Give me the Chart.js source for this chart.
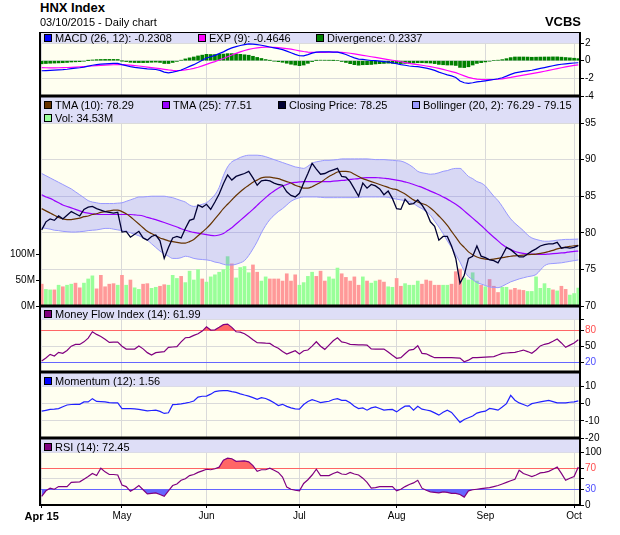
<!DOCTYPE html>
<html><head><meta charset="utf-8">
<script src="https://cdn.jsdelivr.net/npm/chart.js@4.4.1/dist/chart.umd.min.js"></script>
<style>
html,body{margin:0;padding:0;background:#fff;}
body{width:620px;height:535px;overflow:hidden;position:relative;font-family:"Liberation Sans",Arial,Helvetica,sans-serif;color:#000;}
canvas{position:absolute;left:0;}
.t{position:absolute;white-space:nowrap;}
.lg{position:absolute;font-size:11px;line-height:13px;white-space:nowrap;}
.sq{position:absolute;width:6px;height:6px;border:1px solid #000;}
</style></head><body>
<canvas id="cMacd"></canvas>
<canvas id="cMain"></canvas>
<canvas id="cMfi"></canvas>
<canvas id="cMom"></canvas>
<canvas id="cRsi"></canvas>

<div class="t" style="left:40px;top:0px;font-size:13px;line-height:15px;font-weight:bold;">HNX Index</div>
<div class="t" style="left:40px;top:16px;font-size:11px;line-height:13px;">03/10/2015 - Daily chart</div>
<div class="t" style="right:39px;top:14px;font-size:13px;line-height:15px;font-weight:bold;">VCBS</div>

<div class="sq" style="left:44px;top:34px;background:#0000ff"></div><div class="lg" style="left:55px;top:32px;">MACD (26, 12): -0.2308</div>
<div class="sq" style="left:198px;top:34px;background:#ff00ff"></div><div class="lg" style="left:209px;top:32px;">EXP (9): -0.4646</div>
<div class="sq" style="left:316px;top:34px;background:#008000"></div><div class="lg" style="left:327px;top:32px;">Divergence: 0.2337</div>

<div class="sq" style="left:44px;top:101px;background:#663300"></div><div class="lg" style="left:55px;top:99px;">TMA (10): 78.29</div>
<div class="sq" style="left:162px;top:101px;background:#9900ff"></div><div class="lg" style="left:173px;top:99px;">TMA (25): 77.51</div>
<div class="sq" style="left:278px;top:101px;background:#000033"></div><div class="lg" style="left:289px;top:99px;">Closing Price: 78.25</div>
<div class="sq" style="left:412px;top:101px;background:#9999ff"></div><div class="lg" style="left:423px;top:99px;">Bollinger (20, 2): 76.29 - 79.15</div>
<div class="sq" style="left:44px;top:114px;background:#99ff99"></div><div class="lg" style="left:55px;top:112px;">Vol: 34.53M</div>

<div class="sq" style="left:44px;top:310px;background:#800080"></div><div class="lg" style="left:55px;top:308px;">Money Flow Index (14): 61.99</div>
<div class="sq" style="left:44px;top:377px;background:#0000ff"></div><div class="lg" style="left:55px;top:375px;">Momentum (12): 1.56</div>
<div class="sq" style="left:44px;top:443px;background:#800080"></div><div class="lg" style="left:55px;top:441px;">RSI (14): 72.45</div>

<script>
// ---------------- data ----------------
const monthTickIdx = [0, 19, 39, 61, 84, 105, 126];
const monthTickLabels = ['Apr 15', 'May', 'Jun', 'Jul', 'Aug', 'Sep', 'Oct'];

const closePrice = [
  80.4, 81.5, 81.9, 81.7, 82.3, 81.9, 82.4, 82.9, 82.6, 82.3,
  83.2, 83.5, 83.6, 83.3, 83.1, 82.9, 82.8, 82.7, 82.8, 80.1,
  80.2, 79.4, 79.8, 80.2, 79.3, 79.0, 79.5, 79.7, 78.9, 76.5,
  78.0, 79.3, 79.5, 79.3, 80.6, 81.7, 81.9, 83.8, 83.5, 83.9,
  83.2, 84.2, 85.3, 86.7, 87.9, 87.2, 87.7, 87.9, 88.1, 88.4,
  87.5, 86.5, 87.1, 87.2, 87.1, 86.8, 86.6, 86.5, 85.6, 85.1,
  84.9, 85.4, 86.8, 88.1, 89.5, 88.7, 88.0, 88.1, 88.4, 88.6,
  88.8, 87.7, 87.6, 87.0, 86.0, 85.0, 86.8, 86.1, 86.6, 86.4,
  86.0, 85.2, 85.7, 84.7, 83.3, 83.2, 84.6, 83.9, 84.0, 84.5,
  83.8, 82.9, 81.5, 80.9, 79.0, 79.5, 79.5, 78.2, 76.5, 73.1,
  74.2, 76.5, 76.8, 78.2, 76.8, 76.6, 76.3, 76.2, 75.9, 76.9,
  78.0, 77.7, 77.2, 76.7, 76.7, 77.1, 77.5, 77.8, 78.2, 78.4,
  78.5, 78.5, 78.7, 77.9, 78.0, 77.9, 78.0, 78.25
];
const tma10 = [
  83.3, 83.0, 82.7, 82.4, 82.1, 81.9, 81.8, 81.8, 81.9, 82.0,
  82.2, 82.3, 82.5, 82.6, 82.8, 82.9, 83.0, 83.1, 83.1, 82.9,
  82.6, 82.2, 81.7, 81.2, 80.7, 80.2, 79.9, 79.6, 79.3, 79.1,
  78.9, 78.8, 78.7, 78.6, 78.6, 78.8, 79.1, 79.6, 80.1, 80.6,
  81.2, 81.9, 82.6, 83.3, 83.9, 84.5, 85.1, 85.6, 86.1, 86.5,
  86.9, 87.2, 87.5, 87.6, 87.6, 87.5, 87.4, 87.2, 87.0, 86.8,
  86.5, 86.3, 86.1, 86.1, 86.3, 86.6, 86.9, 87.3, 87.7, 88.0,
  88.3, 88.4, 88.4, 88.3, 88.0, 87.7, 87.4, 87.2, 87.0, 86.8,
  86.6, 86.4, 86.2, 86.0, 85.9, 85.6, 85.3, 84.9, 84.5, 84.2,
  84.0, 83.8, 83.4, 82.9, 82.3, 81.7, 81.0, 80.2, 79.4, 78.6,
  78.0, 77.4, 77.0, 76.7, 76.5, 76.4, 76.35, 76.4, 76.5, 76.6,
  76.7, 76.8, 76.85, 76.9, 76.95, 77.0, 77.05, 77.1, 77.2, 77.3,
  77.45, 77.6, 77.8, 77.95, 78.05, 78.15, 78.22, 78.29
];
const tma25 = [
  85.2, 84.9, 84.7, 84.4, 84.1, 83.8, 83.6, 83.4, 83.2, 83.0,
  82.8, 82.7, 82.6, 82.55, 82.5, 82.5, 82.5, 82.5, 82.5, 82.5,
  82.5, 82.5, 82.45, 82.4, 82.3, 82.1, 81.95, 81.8, 81.6, 81.4,
  81.2, 81.0, 80.8, 80.55, 80.35, 80.2, 80.05, 79.95, 79.85, 79.75,
  79.65, 79.6, 79.7, 79.9, 80.3, 80.7, 81.2, 81.7, 82.2, 82.7,
  83.2, 83.75, 84.3, 84.8, 85.3, 85.7, 86.1, 86.4, 86.6, 86.8,
  86.9, 86.95, 87.0, 87.0, 87.0, 87.0, 87.0, 87.0, 87.0, 87.05,
  87.1, 87.15, 87.2, 87.3, 87.35, 87.4, 87.5, 87.55, 87.55, 87.55,
  87.5, 87.45, 87.4, 87.3, 87.2, 87.1, 86.95, 86.8, 86.6, 86.4,
  86.2, 85.95, 85.7, 85.45, 85.2, 84.9, 84.6, 84.25, 83.9, 83.5,
  83.0, 82.5, 82.0, 81.5, 81.0, 80.45, 79.9, 79.4, 78.9, 78.4,
  78.0, 77.7, 77.45, 77.3, 77.2, 77.1, 77.1, 77.05, 77.05, 77.05,
  77.1, 77.15, 77.2, 77.25, 77.3, 77.4, 77.45, 77.51
];
const bollUpper = [
  88.1, 87.8, 87.5, 87.2, 86.9, 86.6, 86.3, 86.0, 85.6, 85.2,
  84.8, 84.4, 84.2, 84.1, 84.0, 84.0, 84.0, 84.0, 84.05, 84.1,
  84.3, 84.5, 84.7, 84.9, 84.9, 84.95, 85.0, 85.0, 85.0, 85.0,
  84.9, 84.8, 84.6, 84.4, 84.2, 83.8, 83.6, 83.7, 83.9, 84.1,
  84.6, 85.2, 86.2, 87.8, 89.0, 89.7, 90.0, 90.3, 90.5, 90.6,
  90.6, 90.6, 90.55, 90.4, 90.2, 90.0, 89.8, 89.6, 89.4, 89.2,
  89.0, 88.9, 88.8, 89.1, 89.5, 89.7, 89.8, 89.9, 89.9, 89.95,
  90.0, 90.1, 90.1, 90.1, 90.1, 90.1, 90.1, 90.1, 90.05, 90.0,
  90.0, 90.0, 89.95, 89.9, 89.85, 89.8, 89.6, 89.3, 88.9, 88.4,
  88.2, 88.1, 88.0, 88.05, 88.2, 88.4, 88.5, 88.7, 88.8, 88.8,
  88.3, 87.7, 87.4, 87.0, 86.8, 86.4, 85.7, 85.0, 84.4, 83.6,
  82.7, 81.9, 81.3, 80.8, 80.3, 79.7, 79.3, 79.1, 78.95, 78.85,
  78.85, 78.9, 79.0, 79.05, 79.1, 79.1, 79.12, 79.15
];
const bollLower = [
  80.7, 80.6, 80.5, 80.35, 80.3, 80.2, 80.15, 80.1, 80.1, 80.15,
  80.2, 80.3, 80.35, 80.4, 80.5, 80.6, 80.6, 80.5, 80.4, 80.3,
  80.2, 80.0, 79.8, 79.6, 79.3, 79.0, 78.5, 78.0, 77.5, 77.1,
  76.8, 76.5, 76.5, 76.6, 76.8, 76.7, 76.5, 76.4, 76.35, 76.3,
  76.2, 76.0, 75.9, 75.7, 75.6, 75.6, 75.7, 75.9, 76.2, 76.9,
  77.8, 78.8, 80.0, 81.0, 81.8, 82.4, 82.9, 83.3, 83.8, 84.3,
  84.6, 84.8, 84.9, 84.9, 84.9, 84.9, 84.85, 84.8, 84.8, 84.8,
  84.8, 84.8, 84.8, 84.8, 84.8, 84.85, 84.9, 84.9, 84.9, 84.9,
  84.9, 84.9, 84.85, 84.7, 84.6, 84.5, 84.4, 84.25, 84.0, 83.6,
  83.3, 82.9, 82.4, 81.6, 80.8, 79.9, 78.9, 78.0, 77.0, 76.0,
  74.8, 74.0, 73.6, 73.2, 73.0, 72.8, 72.6, 72.55, 72.5, 72.7,
  73.0, 73.3, 73.5, 73.7, 73.85, 74.0, 74.1, 74.3, 74.9, 75.5,
  75.75, 75.8, 75.85, 75.9, 76.0, 76.1, 76.2, 76.29
];
// volume in millions
const volume = [
  42, 32, 31, 31, 40, 37, 40, 42, 44, 35,
  44, 52, 58, 33, 59, 37, 42, 43, 40, 59,
  40, 50, 35, 32, 42, 43, 34, 36, 38, 41,
  40, 59, 53, 57, 45, 67, 50, 70, 52, 46,
  56, 60, 65, 70, 95, 81, 54, 74, 76, 64,
  79, 65, 48, 56, 52, 52, 52, 48, 62, 48,
  60, 40, 45, 57, 65, 57, 67, 48, 56, 52,
  73, 62, 55, 48, 56, 40, 56, 48, 44, 48,
  50, 46, 37, 36, 53, 38, 43, 40, 40, 48,
  42, 50, 48, 40, 40, 40, 40, 42, 66, 71,
  54, 50, 64, 48, 40, 37, 51, 38, 26, 36,
  36, 31, 34, 31, 30, 28, 28, 56, 34, 43,
  34, 31, 29, 38, 32, 21, 24, 34.53
];
// 1 = up day (green bar), 0 = down day (red bar)
const volUp = [
  0,1,1,0,1,0,1,1,0,0, 1,1,1,0,0,0,0,0,1,0,
  1,0,1,1,0,0,1,1,0,0, 1,1,1,0,1,1,1,1,0,1,
  1,1,1,1,1,0,1,1,1,1, 0,0,1,1,0,0,0,0,0,0,
  0,1,1,1,1,0,0,0,1,1, 1,0,0,0,0,0,1,0,1,1,
  0,0,1,1,0,0,1,1,1,1, 0,0,0,0,0,1,1,0,0,0,
  1,1,1,1,0,1,0,0,0,1, 1,0,0,0,0,1,1,1,1,1,
  1,0,1,0,0,1,1,1
];
const macd = [
  -1.14, -1.12, -1.1, -1.08, -1.05, -1.02, -0.97, -0.9, -0.85, -0.8,
  -0.72, -0.62, -0.52, -0.45, -0.4, -0.36, -0.33, -0.31, -0.3, -0.45,
  -0.56, -0.68, -0.76, -0.82, -0.88, -0.93, -0.96, -1.0, -1.1, -1.3,
  -1.37, -1.3, -1.2, -1.05, -0.85, -0.65, -0.45, -0.2, 0.05, 0.3,
  0.45, 0.6, 0.8, 1.0, 1.25, 1.45, 1.6, 1.72, 1.82, 1.9,
  1.88, 1.82, 1.75, 1.65, 1.55, 1.45, 1.36, 1.25, 1.08, 0.9,
  0.72, 0.56, 0.55, 0.68, 0.85, 0.97, 1.0, 1.0, 1.0, 0.98,
  0.96, 0.85, 0.7, 0.5, 0.32, 0.18, 0.15, 0.08, 0.02, 0.0,
  -0.05, -0.1, -0.15, -0.25, -0.35, -0.45, -0.52, -0.6, -0.65, -0.68,
  -0.75, -0.85, -0.95, -1.1, -1.3, -1.45, -1.6, -1.72, -1.9, -2.3,
  -2.5, -2.58, -2.5, -2.4, -2.35, -2.28, -2.2, -2.13, -2.05, -1.93,
  -1.75, -1.55, -1.38, -1.3, -1.22, -1.15, -1.08, -0.98, -0.88, -0.78,
  -0.68, -0.57, -0.47, -0.4, -0.35, -0.3, -0.26, -0.2308
];
const macdExp = [
  -0.79, -0.8, -0.81, -0.81, -0.8, -0.79, -0.77, -0.75, -0.72, -0.69,
  -0.66, -0.63, -0.6, -0.57, -0.54, -0.51, -0.48, -0.46, -0.44, -0.44,
  -0.46, -0.5, -0.55, -0.6, -0.66, -0.72, -0.78, -0.84, -0.9, -0.98,
  -1.05, -1.1, -1.12, -1.1, -1.05, -0.97, -0.87, -0.74, -0.58, -0.42,
  -0.25, -0.1, 0.08, 0.25, 0.45, 0.65, 0.83, 1.0, 1.15, 1.28,
  1.38, 1.45, 1.5, 1.52, 1.52, 1.5, 1.47, 1.43, 1.37, 1.3,
  1.21, 1.12, 1.04, 0.98, 0.95, 0.94, 0.94, 0.95, 0.96, 0.96,
  0.96, 0.94, 0.9, 0.84, 0.77, 0.69, 0.61, 0.53, 0.45, 0.37,
  0.29, 0.21, 0.13, 0.05, -0.03, -0.12, -0.21, -0.3, -0.38, -0.45,
  -0.52, -0.6, -0.68, -0.77, -0.88, -0.99, -1.11, -1.23, -1.36, -1.54,
  -1.72, -1.89, -2.01, -2.09, -2.13, -2.14, -2.14, -2.13, -2.1, -2.05,
  -1.98, -1.9, -1.8, -1.72, -1.64, -1.56, -1.47, -1.38, -1.29, -1.2,
  -1.1, -1.0, -0.9, -0.8, -0.71, -0.62, -0.54, -0.4646
];
const macdDiv = [
  -0.35, -0.32, -0.29, -0.27, -0.25, -0.23, -0.2, -0.15, -0.13, -0.11,
  -0.06, 0.01, 0.08, 0.12, 0.14, 0.15, 0.15, 0.15, 0.14, -0.01,
  -0.1, -0.18, -0.21, -0.22, -0.22, -0.21, -0.18, -0.16, -0.2, -0.32,
  -0.32, -0.2, -0.08, 0.05, 0.2, 0.32, 0.42, 0.54, 0.63, 0.72,
  0.7, 0.7, 0.72, 0.75, 0.8, 0.8, 0.77, 0.72, 0.67, 0.62,
  0.5, 0.37, 0.25, 0.13, 0.03, -0.05, -0.11, -0.18, -0.29, -0.4,
  -0.49, -0.56, -0.49, -0.3, -0.1, 0.03, 0.06, 0.05, 0.04, 0.02,
  0.0, -0.09, -0.2, -0.34, -0.45, -0.51, -0.46, -0.45, -0.43, -0.37,
  -0.34, -0.31, -0.28, -0.3, -0.32, -0.33, -0.31, -0.3, -0.27, -0.23,
  -0.23, -0.25, -0.27, -0.33, -0.42, -0.46, -0.49, -0.49, -0.54, -0.76,
  -0.78, -0.69, -0.49, -0.31, -0.22, -0.14, -0.06, 0.0, 0.05, 0.12,
  0.23, 0.35, 0.42, 0.42, 0.42, 0.41, 0.39, 0.4, 0.41, 0.42,
  0.42, 0.43, 0.43, 0.4, 0.36, 0.32, 0.28, 0.2337
];
const mfi = [
  22.5, 28, 34.8, 31.7, 38.5, 36.7, 42, 50, 53.3, 53.3,
  58, 65, 76.8, 71.9, 68, 63, 57, 57.5, 57.7, 50,
  44.7, 44.7, 44.7, 50.2, 45, 38, 33.6, 38, 39.1, 39.8,
  47.8, 48.5, 49, 58, 65.7, 66.3, 70, 73, 78, 86,
  80, 80.3, 85, 90, 91, 85, 76.8, 76.2, 73, 68,
  62, 56.4, 56, 55.5, 55.2, 50, 46, 40, 35.4, 38.5,
  41.6, 35.4, 41.6, 42.8, 50, 58.3, 50, 44.1, 52, 60,
  65.7, 58, 56.4, 53.3, 53, 52.5, 52.3, 52.1, 45, 44.7,
  44.7, 44.7, 39, 33, 27.4, 28.6, 36, 42.8, 44.1, 50.9,
  36.7, 35.8, 32, 28.6, 28.6, 28.6, 28.6, 28.6, 28.3, 27.8,
  21, 24, 28.6, 28.8, 29.2, 29.6, 30, 30.5, 33.5, 36.7,
  37.3, 37.9, 38.5, 40.5, 42.8, 40, 36.7, 43, 50.5, 53.5,
  55.2, 59, 63.2, 56, 47.8, 52, 56, 61.99
];
const momentum = [
  -4.4, -3.9, -3.4, -3.2, -2.9, -1.8, -0.8, -0.5, -0.4, -0.4,
  1.0, 1.0, 2.9, 1.3, 1.2, 1.0, 0.6, 0.4, 0.4, -2.9,
  -2.9, -2.9, -3.1, -3.4, -3.8, -4.2, -4.0, -3.8, -4.5, -5.7,
  -5.3, -0.6, -0.4, -0.1, 0.3, 0.8, 1.5, 3.8, 4.3, 4.4,
  5.5, 7.0, 7.4, 7.6, 7.6, 7.0, 6.5, 5.7, 5.0, 4.4,
  3.5, 2.5, 3.5, 3.0, 1.9, 0.5, -1.1, -0.4, -1.6, -2.5,
  -3.0, -3.2, -0.5, 1.2, 2.3, 1.5, 0.6, 1.0, 1.4, 2.4,
  2.9, 1.9, 1.9, 0.5, -1.5, -2.9, -2.5, -3.8, -2.5, -1.9,
  -2.8, -3.8, -3.5, -3.4, -4.8, -3.0, -1.5, -1.3, -3.8, -1.5,
  -3.2, -3.7, -4.2, -5.4, -6.7, -5.0, -3.8, -5.1, -8.0, -10.9,
  -9.2, -8.2, -7.2, -5.5, -4.8, -4.4, -2.8, -3.2, -3.8, -2.0,
  0.0, 4.8, 2.0, 0.4, -0.5, -1.5, 0.0, 0.5, 1.0, 1.5,
  1.9, 1.2, 0.4, 0.4, 0.4, 0.8, 1.0, 1.56
];
const rsi = [
  16.5, 27, 32, 30, 35, 35, 35, 43, 43.5, 44,
  49, 54, 60, 56, 70, 63, 58, 58, 57, 38,
  35, 26, 31, 37, 29, 21, 22, 23, 20, 16.5,
  27, 37, 40, 47, 50, 56, 58, 62, 65, 68,
  67, 69, 72, 85, 89, 88, 83, 83.5, 84, 82,
  75, 64, 67, 67, 70, 66, 62, 53, 34, 30,
  28, 27, 41, 48, 57, 68, 56, 56, 56, 60,
  63, 59, 58, 62, 59, 57, 51, 43, 32, 33,
  35, 35, 35, 35, 27, 30, 35, 39, 42, 47,
  32, 28, 25, 24, 23, 25, 24, 22, 22, 20,
  15, 27, 29, 30, 31, 32, 33, 35, 37, 40,
  43, 46, 49, 66, 60, 57, 54, 57, 61, 62,
  64, 68, 72, 60, 47, 51, 54, 72.45
];

const priceTicks = [70, 75, 80, 85, 90, 95];
const volTicks = [0, 50, 100];
const macdTicks = [-4, -2, 0, 2];
const mfiTicks = [20, 50, 80, 100];
const momTicks = [-20, -10, 0, 10];
const rsiTicks = [0, 30, 50, 70, 100];

// ---------------- drawing ----------------
const FONT = '"Liberation Sans", Arial, Helvetica, sans-serif';
Chart.defaults.font.family = FONT;
Chart.defaults.font.size = 10;
Chart.defaults.color = '#000';
const GRID = '#dadada';
const PLOT_BG = '#fffff0';
const BAND_BG = '#dedef7';
const N = closePrice.length;
const pts = arr => arr.map((v, i) => ({x: i, y: v}));

const panelPlugin = {
  id: 'panel',
  beforeDraw(chart, args, o) {
    const {ctx, chartArea: a} = chart;
    ctx.save();
    ctx.fillStyle = PLOT_BG;
    ctx.fillRect(a.left, a.top, a.right - a.left, a.bottom - a.top);
    ctx.restore();
  },
  beforeDatasetsDraw(chart, args, o) {
    const {ctx, chartArea: a} = chart;
    const y = chart.scales[o.axis].getPixelForValue(o.band);
    ctx.save();
    ctx.fillStyle = BAND_BG;
    ctx.fillRect(a.left, a.top, a.right - a.left, y - a.top);
    ctx.restore();
  },
  afterDraw(chart, args, o) {
    const {ctx, chartArea: a} = chart;
    ctx.save();
    ctx.strokeStyle = '#000';
    ctx.lineWidth = 2;
    ctx.beginPath();
    ctx.moveTo(a.left, a.top); ctx.lineTo(a.left, a.bottom);
    ctx.moveTo(a.right, a.top); ctx.lineTo(a.right, a.bottom);
    ctx.stroke();
    ctx.lineWidth = o.first ? 1 : 3;
    const ty = o.first ? a.top + 0.5 : a.top;
    ctx.beginPath(); ctx.moveTo(a.left - 1, ty); ctx.lineTo(a.right + 1, ty); ctx.stroke();
    if (o.last) {
      ctx.lineWidth = 2;
      ctx.beginPath(); ctx.moveTo(a.left - 1, a.bottom); ctx.lineTo(a.right + 1, a.bottom); ctx.stroke();
    }
    ctx.restore();
  }
};

function xAxis(show) {
  return {
    type: 'linear', min: -0.4, max: N - 1 + 0.4, offset: false,
    afterBuildTicks: s => { s.ticks = monthTickIdx.map(v => ({value: v})); },
    afterFit: s => { s.height = show ? 22 : 0; },
    grid: {color: GRID, drawTicks: show, tickLength: 3, tickColor: '#000', offset: false},
    border: {display: false},
    ticks: {
      display: show, autoSkip: false, maxRotation: 0, minRotation: 0, padding: 2, color: '#000',
      font: c => (c.index === 0 ? {family: FONT, size: 11, weight: 'bold'} : {family: FONT, size: 10}),
      callback: (v, i) => monthTickLabels[i]
    }
  };
}

function yAxis(cfg) {
  return {
    type: 'linear', position: cfg.pos || 'right', min: cfg.min, max: cfg.max,
    afterBuildTicks: s => { s.ticks = cfg.ticks.map(v => ({value: v})); },
    afterFit: s => { s.width = 40; },
    grid: {
      drawOnChartArea: cfg.chartGrid !== false, drawTicks: true, tickLength: 4, tickColor: '#000',
      color: c => (cfg.gridColor && c.tick ? cfg.gridColor(c.tick.value) : GRID)
    },
    border: {display: false},
    ticks: {
      autoSkip: false, padding: 1,
      color: c => (cfg.labelColor && c.tick ? cfg.labelColor(c.tick.value) : '#000'),
      font: {family: FONT, size: 10},
      callback: v => (cfg.fmt ? cfg.fmt(v) : String(v))
    }
  };
}

function panel(id, top, height, extraBottom, leftPad, scales, datasets, band, first, last) {
  const cv = document.getElementById(id);
  cv.width = 620;
  cv.height = height + 16 + extraBottom;
  cv.style.top = (top - 8) + 'px';
  cv.style.width = '620px';
  cv.style.height = cv.height + 'px';
  new Chart(cv, {
    type: 'line',
    data: {datasets},
    options: {
      responsive: false, animation: false, events: [],
      layout: {padding: {left: leftPad, right: 0, top: 8, bottom: 8}},
      elements: {point: {radius: 0}, line: {borderWidth: 1}},
      scales,
      plugins: {
        legend: {display: false}, tooltip: {enabled: false},
        panel: {axis: band.axis, band: band.value, first, last}
      }
    },
    plugins: [panelPlugin]
  });
}

const RED = '#ff6666', BLUE = '#6666ff';

// MACD panel
panel('cMacd', 32, 64, 0, 40,
  {x: xAxis(false), y: yAxis({min: -4, max: 3.25, ticks: macdTicks})},
  [
    {type: 'line', data: pts(macd), borderColor: '#0000ff', borderWidth: 1.2, order: 1},
    {type: 'line', data: pts(macdExp), borderColor: '#ff00ff', borderWidth: 1.2, order: 2},
    {type: 'bar', data: pts(macdDiv), backgroundColor: '#008000', barThickness: 3, order: 3}
  ],
  {axis: 'y', value: 2}, true, false);

// Main price panel
panel('cMain', 96, 210, 0, 0,
  {
    x: xAxis(false),
    y: yAxis({min: 70, max: 98.69, ticks: priceTicks}),
    yv: yAxis({pos: 'left', min: 0, max: 404, ticks: volTicks, chartGrid: false, fmt: v => v + 'M'})
  },
  [
    {type: 'bar', yAxisID: 'yv', data: pts(volume), barThickness: 3,
      backgroundColor: volUp.map(u => (u ? '#99ff99' : '#ff9999')), order: 10},
    {type: 'line', yAxisID: 'y', data: pts(bollUpper), borderColor: '#9999ff', borderWidth: 1,
      cubicInterpolationMode: 'monotone', fill: false, order: 5},
    {type: 'line', yAxisID: 'y', data: pts(bollLower), borderColor: '#9999ff', borderWidth: 1,
      cubicInterpolationMode: 'monotone', fill: '-1', backgroundColor: 'rgba(100,100,255,0.25)', order: 5},
    {type: 'line', yAxisID: 'y', data: pts(tma25), borderColor: '#9900ff', borderWidth: 1.2,
      cubicInterpolationMode: 'monotone', order: 3},
    {type: 'line', yAxisID: 'y', data: pts(tma10), borderColor: '#663300', borderWidth: 1.2,
      cubicInterpolationMode: 'monotone', order: 2},
    {type: 'line', yAxisID: 'y', data: pts(closePrice), borderColor: '#000033', borderWidth: 1.3, order: 1}
  ],
  {axis: 'y', value: 95}, false, false);

// Money flow index
panel('cMfi', 306, 66, 0, 40,
  {
    x: xAxis(false),
    y: yAxis({min: 2, max: 124.7, ticks: mfiTicks,
      fmt: v => (v === 100 ? '' : String(v)),
      gridColor: v => (v === 80 ? RED : v === 20 ? BLUE : GRID),
      labelColor: v => (v === 80 ? '#ff4d4d' : v === 20 ? '#4d4dff' : '#000')})
  },
  [
    {type: 'line', data: pts(mfi), borderColor: '#800080', borderWidth: 1.2,
      fill: {target: {value: 80}, above: RED, below: 'rgba(0,0,0,0)'}, order: 1}
  ],
  {axis: 'y', value: 100}, false, false);

// Momentum
panel('cMom', 372, 66, 0, 40,
  {x: xAxis(false), y: yAxis({min: -20, max: 18.4, ticks: momTicks})},
  [
    {type: 'line', data: pts(momentum), borderColor: '#2222ff', borderWidth: 1.2, order: 1}
  ],
  {axis: 'y', value: 10}, false, false);

// RSI
panel('cRsi', 438, 67, 22, 40,
  {
    x: xAxis(true),
    y: yAxis({min: 0, max: 127.4, ticks: rsiTicks,
      fmt: v => (v === 50 ? '' : String(v)),
      gridColor: v => (v === 70 ? RED : v === 30 ? BLUE : GRID),
      labelColor: v => (v === 70 ? '#ff4d4d' : v === 30 ? '#4d4dff' : '#000')})
  },
  [
    {type: 'line', data: pts(rsi), borderColor: '#800080', borderWidth: 1.2,
      fill: {target: {value: 70}, above: RED, below: 'rgba(0,0,0,0)'}, order: 1},
    {type: 'line', data: pts(rsi), borderColor: 'rgba(0,0,0,0)', borderWidth: 0,
      fill: {target: {value: 30}, above: 'rgba(0,0,0,0)', below: BLUE}, order: 2}
  ],
  {axis: 'y', value: 100}, false, true);
</script>
</body></html>
